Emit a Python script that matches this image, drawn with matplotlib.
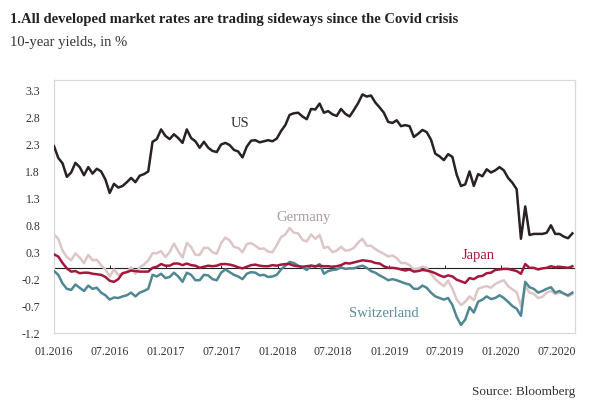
import matplotlib.pyplot as plt
import pandas as pd

plt.rcParams['font.family'] = ['Liberation Serif', 'DejaVu Serif']

# biweekly observations, 01.2016 - 08.2020
dates = pd.date_range('2016-01-01', periods=122, freq='14D')

us = [
    # 2016
    2.27, 2.05, 1.95, 1.70, 1.78, 1.96, 1.88, 1.73, 1.88, 1.76, 1.85, 1.80, 1.65,
    1.40, 1.57, 1.50, 1.53, 1.60, 1.68, 1.60, 1.72, 1.75, 1.80, 2.35, 2.40, 2.58, 2.46,
    # 2017
    2.40, 2.49, 2.42, 2.33, 2.58, 2.42, 2.36, 2.24, 2.35, 2.24, 2.18, 2.16, 2.30,
    2.33, 2.29, 2.20, 2.17, 2.06, 2.26, 2.37, 2.38, 2.34, 2.36, 2.38, 2.36, 2.41,
    # 2018
    2.55, 2.66, 2.85, 2.88, 2.89, 2.82, 2.77, 2.96, 2.95, 3.06, 2.89, 2.92, 2.86,
    2.83, 2.96, 2.87, 2.82, 2.94, 3.07, 3.23, 3.19, 3.21, 3.08, 2.99, 2.89, 2.72,
    # 2019
    2.70, 2.75, 2.64, 2.66, 2.64, 2.44, 2.50, 2.57, 2.53, 2.39, 2.13, 2.08, 2.01,
    2.12, 2.07, 1.74, 1.53, 1.56, 1.80, 1.53, 1.75, 1.71, 1.84, 1.78, 1.82, 1.88,
    # 2020
    1.82, 1.68, 1.59, 1.47, 0.55, 1.15, 0.62, 0.64, 0.64, 0.64, 0.66, 0.80, 0.64,
    0.64, 0.59, 0.56, 0.65,
]

germany = [
    0.63, 0.55, 0.33, 0.21, 0.15, 0.28, 0.20, 0.10, 0.25, 0.15, 0.16, 0.06, -0.02,
    -0.15, -0.02, -0.12, -0.10, -0.07, 0.02, -0.10, 0.02, 0.07, 0.15, 0.28, 0.28, 0.32, 0.21,
    0.30, 0.46, 0.32, 0.20, 0.47, 0.40, 0.25, 0.25, 0.38, 0.38, 0.30, 0.27, 0.47,
    0.57, 0.52, 0.40, 0.38, 0.30, 0.45, 0.47, 0.42, 0.36, 0.37, 0.31, 0.30, 0.43,
    0.58, 0.63, 0.75, 0.66, 0.65, 0.53, 0.50, 0.63, 0.55, 0.62, 0.38, 0.40, 0.30,
    0.33, 0.40, 0.33, 0.34, 0.38, 0.48, 0.55, 0.42, 0.42, 0.36, 0.31, 0.27, 0.22,
    0.24, 0.19, 0.10, 0.10, 0.06, -0.02, 0.00, 0.03, 0.01, -0.10, -0.20, -0.27, -0.33,
    -0.23, -0.38, -0.58, -0.68, -0.62, -0.52, -0.59, -0.38, -0.35, -0.33, -0.36, -0.29, -0.25,
    -0.22, -0.33, -0.39, -0.44, -0.70, -0.33, -0.45, -0.47, -0.55, -0.53, -0.45, -0.42, -0.48,
    -0.45, -0.46, -0.52, -0.48,
]

japan = [
    0.26, 0.22, 0.10, 0.00, -0.06, -0.05, -0.09, -0.08, -0.08, -0.10, -0.11, -0.12, -0.16,
    -0.23, -0.25, -0.20, -0.09, -0.07, -0.04, -0.05, -0.06, -0.06, -0.06, 0.01, 0.03, 0.08, 0.05,
    0.05, 0.09, 0.09, 0.06, 0.09, 0.06, 0.05, 0.01, 0.03, 0.05, 0.04, 0.05, 0.08,
    0.08, 0.07, 0.05, 0.02, 0.00, 0.03, 0.06, 0.07, 0.05, 0.04, 0.04, 0.06, 0.05,
    0.07, 0.08, 0.08, 0.05, 0.04, 0.03, 0.04, 0.05, 0.04, 0.05, 0.04, 0.04, 0.03,
    0.04, 0.06, 0.10, 0.09, 0.11, 0.13, 0.15, 0.14, 0.13, 0.10, 0.09, 0.04, 0.01,
    0.01, 0.00, -0.02, -0.04, -0.02, -0.06, -0.05, -0.03, -0.04, -0.06, -0.09, -0.13, -0.16,
    -0.13, -0.15, -0.21, -0.24, -0.27, -0.18, -0.20, -0.15, -0.14, -0.09, -0.08, -0.03, -0.02,
    -0.01, -0.01, -0.03, -0.05, -0.10, 0.08, 0.01, 0.01, -0.02, 0.00, 0.01, 0.04, 0.02,
    0.03, 0.02, 0.01, 0.04,
]

switzerland = [
    -0.05, -0.12, -0.28, -0.38, -0.40, -0.30, -0.36, -0.42, -0.32, -0.38, -0.36, -0.45, -0.50,
    -0.58, -0.54, -0.55, -0.52, -0.50, -0.45, -0.52, -0.45, -0.42, -0.38, -0.12, -0.15, -0.10, -0.18,
    -0.16, -0.08, -0.15, -0.25, -0.08, -0.12, -0.22, -0.22, -0.12, -0.13, -0.20, -0.22, -0.08,
    -0.02, -0.07, -0.12, -0.15, -0.20, -0.10, -0.07, -0.08, -0.13, -0.12, -0.16, -0.15, -0.12,
    -0.02, 0.05, 0.12, 0.10, 0.05, 0.02, -0.03, 0.05, 0.03, 0.08, -0.10, -0.05, -0.03,
    -0.02, 0.02, -0.01, 0.00, 0.00, 0.03, 0.05, 0.01, -0.05, -0.08, -0.13, -0.17, -0.22,
    -0.20, -0.22, -0.25, -0.28, -0.30, -0.38, -0.38, -0.32, -0.36, -0.45, -0.52, -0.55, -0.58,
    -0.55, -0.68, -0.90, -1.05, -0.95, -0.72, -0.82, -0.62, -0.58, -0.52, -0.57, -0.55, -0.50,
    -0.55, -0.62, -0.70, -0.75, -0.88, -0.25, -0.35, -0.38, -0.45, -0.42, -0.38, -0.35, -0.45,
    -0.42, -0.47, -0.50, -0.45,
]

y_ticks = [-1.2, -0.7, -0.2, 0.3, 0.8, 1.3, 1.8, 2.3, 2.8, 3.3]
x_ticks = pd.to_datetime(['2016-01-01', '2016-07-01', '2017-01-01', '2017-07-01',
                          '2018-01-01', '2018-07-01', '2019-01-01', '2019-07-01',
                          '2020-01-01', '2020-07-01'])
x_labels = ['01.2016', '07.2016', '01.2017', '07.2017', '01.2018',
            '07.2018', '01.2019', '07.2019', '01.2020', '07.2020']

for name, s in [('us', us), ('germany', germany), ('japan', japan), ('switzerland', switzerland)]:
    assert len(s) == len(dates), (name, len(s))

fig = plt.figure(figsize=(6, 4.16), dpi=100)
ax = fig.add_axes([0.09, 0.1995, 0.868, 0.6085])

# zero line with small half-year marks
ax.axhline(0, color='#222222', lw=0.8, zorder=1.5)
ax.vlines(x_ticks[1:], 0, 0.06, color='#222222', lw=0.7, zorder=1.5)

ax.plot(dates, germany, color='#dcc6c6', lw=1.8, zorder=2)
ax.plot(dates, switzerland, color='#4f8793', lw=1.8, zorder=3)
ax.plot(dates, japan, color='#a5173c', lw=1.8, zorder=4)
ax.plot(dates, us, color='#2a2222', lw=1.8, zorder=5)

ax.text(pd.Timestamp('2017-08-31'), 2.69, 'US', color='#3a3030', fontsize=10.5,
        ha='center', va='center')
ax.text(pd.Timestamp('2018-03-28'), 0.94, 'Germany', color='#a89c9c', fontsize=10.5,
        ha='center', va='center')
ax.text(pd.Timestamp('2019-10-20'), 0.23, 'Japan', color='#a5173c', fontsize=10.5,
        ha='center', va='center')
ax.text(pd.Timestamp('2018-12-15'), -0.83, 'Switzerland', color='#5a8c98', fontsize=10.5,
        ha='center', va='center')

ax.set_xlim(pd.Timestamp('2016-01-01'), pd.Timestamp('2020-08-29'))
ax.set_ylim(-1.2, 3.5)
ax.set_yticks(y_ticks)
ax.set_yticklabels([f'{v:.1f}' for v in y_ticks])
ax.set_xticks(x_ticks)
ax.set_xticklabels(x_labels)
ax.tick_params(axis='both', length=0, labelsize=8.5, colors='#333333')
ax.tick_params(axis='y', pad=10)
ax.tick_params(axis='x', pad=9)

for side in ['top', 'right', 'bottom', 'left']:
    ax.spines[side].set_color('#d9d9d9')
    ax.spines[side].set_linewidth(0.9)

fig.text(0.017, 0.952, '1.All developed market rates are trading sideways since the Covid crisis',
         fontsize=10.5, fontweight='bold', color='#222222', va='center')
fig.text(0.017, 0.898, '10-year yields, in %', fontsize=10.5, color='#333333', va='center')
fig.text(0.958, 0.058, 'Source: Bloomberg', fontsize=9.5, color='#333333',
         ha='right', va='center')

fig.savefig('out.png', dpi=100, facecolor='white')
